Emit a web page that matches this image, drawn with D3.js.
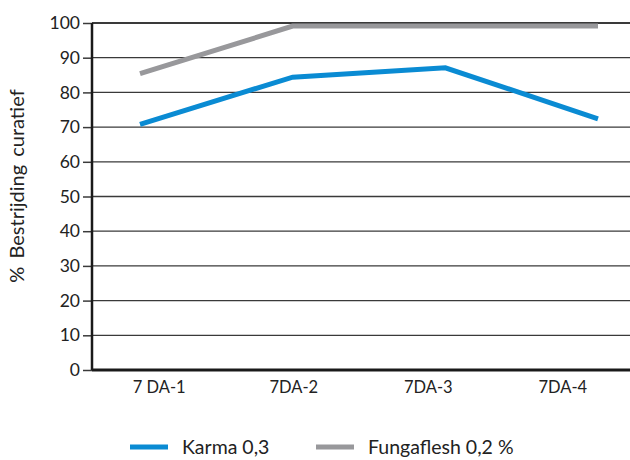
<!DOCTYPE html>
<meta charset="utf-8">
<html>
<head>
<title>Bestrijding curatief</title>
<style>
  body { margin: 0; background: #fff; }
  text { font-family: Lato, "Open Sans", sans-serif; fill: #222; }
</style>
<script src="https://cdn.jsdelivr.net/npm/d3@7"></script>
</head>
<body>
<script>
var categories = ["7 DA-1", "7DA-2", "7DA-3", "7DA-4"]
var karma = [70.8, 84.4, 87.1, 72.4]
var fungaflesh = [85.4, 99.1, 99.1, 99.1]
var yTicks = [0, 10, 20, 30, 40, 50, 60, 70, 80, 90, 100]
var seriesNames = ["Karma 0,3", "Fungaflesh 0,2 %"]
var seriesColors = ["#0a8bd3", "#98989b"]

var svgWidth = 630, svgHeight = 460
var margin = {top: 23, right: 0, bottom: 90, left: 92}
var width = svgWidth - margin.left - margin.right
var height = svgHeight - margin.top - margin.bottom

var svg = d3.select("body").append("svg")
    .attr("width", svgWidth)
    .attr("height", svgHeight)

var g = svg.append("g")
    .attr("transform", "translate(" + margin.left + "," + margin.top + ")")

var y = d3.scaleLinear().domain([0, 100]).range([height, 0])
var xBand = d3.scaleBand().domain(categories).range([0, width])
// line points sit a bit off the label centres, as in the original
var xPoint = d3.scalePoint().domain(categories).range([48, 506])

// gridlines
g.selectAll(".grid").data(yTicks.filter(d => d > 0)).enter()
  .append("line")
  .attr("class", "grid")
  .attr("x1", 0).attr("x2", width)
  .attr("y1", d => y(d)).attr("y2", d => y(d))
  .attr("stroke", "#3a3a3a")
  .attr("stroke-width", d => d == 100 ? 2 : 1.3)

// y axis
var yAxis = d3.axisLeft(y).tickValues(yTicks).tickSize(9).tickPadding(3)
var ya = g.append("g").call(yAxis)
ya.select(".domain").remove()
ya.selectAll(".tick line").attr("stroke", "#3a3a3a").attr("stroke-width", 1.5)
ya.selectAll(".tick text").style("font-size", "17.5px").attr("fill", "#222")

g.append("line")
  .attr("x1", 0).attr("x2", 0).attr("y1", 0).attr("y2", height)
  .attr("stroke", "#1a1a1a").attr("stroke-width", 2.5)

// x axis
var xAxis = d3.axisBottom(xBand).tickSize(0).tickPadding(11)
var xa = g.append("g").attr("transform", "translate(0," + height + ")").call(xAxis)
xa.select(".domain").remove()
xa.selectAll(".tick text").style("font-size", "16.5px").attr("fill", "#222")
g.append("line")
  .attr("x1", 0).attr("x2", width).attr("y1", height).attr("y2", height)
  .attr("stroke", "#1a1a1a").attr("stroke-width", 3)

// y label
svg.append("text")
  .attr("transform", "translate(24,186) rotate(-90)")
  .attr("text-anchor", "middle")
  .style("font-size", "20px")
  .style("word-spacing", "3px")
  .text("% Bestrijding curatief")

// lines
var line = d3.line().x((d, i) => xPoint(categories[i])).y(d => y(d))
;[fungaflesh, karma].forEach((vals, k) => {
  g.append("path")
    .datum(vals)
    .attr("d", line)
    .attr("fill", "none")
    .attr("stroke", k == 0 ? seriesColors[1] : seriesColors[0])
    .attr("stroke-width", 5)
    .attr("stroke-linejoin", "miter")
})

// legend
var legend = svg.append("g").attr("transform", "translate(130,447)")
var items = legend.selectAll("g").data(seriesNames).enter().append("g")
  .attr("transform", (d, i) => "translate(" + (i * 186) + ",0)")
items.append("line")
  .attr("x1", 0).attr("x2", 38)
  .attr("stroke", (d, i) => seriesColors[i])
  .attr("stroke-width", 5)
items.append("text")
  .attr("x", 52).attr("dy", "0.35em")
  .style("font-size", "19.5px")
  .text(d => d)
</script>
</body>
</html>
